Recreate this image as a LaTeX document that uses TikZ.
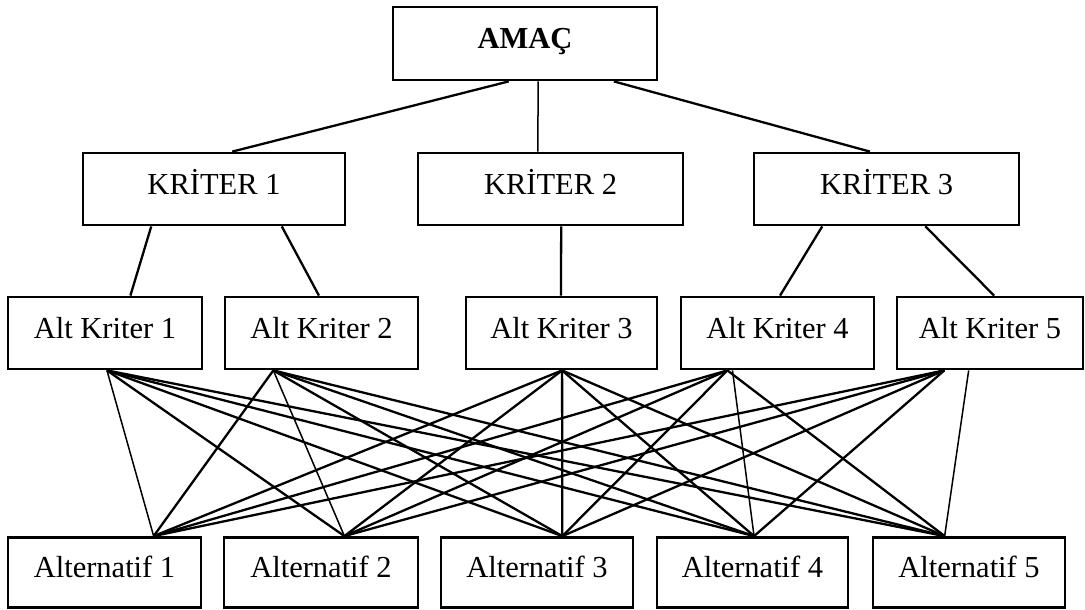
\documentclass[tikz,border=0pt]{standalone}
\usepackage{fontspec}
\setmainfont{Liberation Serif}
\usetikzlibrary{calc}
\begin{document}
\begin{tikzpicture}[x=1pt,y=-1pt,
  box/.style={draw, line width=2.8pt, rectangle, inner sep=0pt,
    minimum height=72pt, text height=22pt, text depth=12pt,
    font=\fontsize{30.5}{36}\selectfont},
  link/.style={line width=2.3pt},
  thinlink/.style={line width=1.5pt}]
\useasboundingbox (0,0) rectangle (1085,610);

% goal
\node[box, minimum width=264pt, minimum height=73pt] (amac) at (525,43.5) {\bfseries AMAÇ};

% criteria
\node[box, minimum width=262pt] (k1) at (214,189) {KRİTER 1};
\node[box, minimum width=265pt] (k2) at (550.5,189) {KRİTER 2};
\node[box, minimum width=265pt] (k3) at (886.5,189) {KRİTER 3};

% sub-criteria
\node[box, minimum width=194pt] (ak1) at (105,333) {Alt Kriter 1};
\node[box, minimum width=193pt] (ak2) at (321.5,333) {Alt Kriter 2};
\node[box, minimum width=191pt] (ak3) at (561.5,333) {Alt Kriter 3};
\node[box, minimum width=193pt] (ak4) at (777.5,333) {Alt Kriter 4};
\node[box, minimum width=186pt] (ak5) at (990,333) {Alt Kriter 5};

% alternatives
\node[box, minimum width=193pt, minimum height=70pt] (alt1) at (104.5,572.5) {Alternatif 1};
\node[box, minimum width=194pt, minimum height=70pt] (alt2) at (321,572.5) {Alternatif 2};
\node[box, minimum width=192pt, minimum height=70pt] (alt3) at (537,572.5) {Alternatif 3};
\node[box, minimum width=191pt, minimum height=70pt] (alt4) at (752.5,572.5) {Alternatif 4};
\node[box, minimum width=192pt, minimum height=70pt] (alt5) at (969,572.5) {Alternatif 5};

% goal -> criteria
\draw[link] ($(amac.south west)!0.439!(amac.south east)$) -- ($(k1.north west)!0.569!(k1.north east)$);
\draw[thinlink] ($(amac.south west)!0.549!(amac.south east)$) -- ($(k2.north west)!0.453!(k2.north east)$);
\draw[link] ($(amac.south west)!0.833!(amac.south east)$) -- ($(k3.north west)!0.438!(k3.north east)$);

% criteria -> sub-criteria
\draw[link] ($(k1.south west)!0.263!(k1.south east)$) -- ($(ak1.north west)!0.629!(ak1.north east)$);
\draw[link] ($(k1.south west)!0.756!(k1.south east)$) -- ($(ak2.north west)!0.487!(ak2.north east)$);
\draw[link] ($(k2.south west)!0.540!(k2.south east)$) -- ($(ak3.north west)!0.497!(ak3.north east)$);
\draw[link] ($(k3.south west)!0.260!(k3.south east)$) -- ($(ak4.north west)!0.513!(ak4.north east)$);
\draw[link] ($(k3.south west)!0.645!(k3.south east)$) -- ($(ak5.north west)!0.522!(ak5.north east)$);

% sub-criteria -> alternatives (all pairs)
\foreach \i/\fa in {1/0.510,2/0.254,3/0.503,4/0.244,5/0.258}{
  \foreach \j/\fb in {1/0.751,2/0.619,3/0.630,4/0.508,5/0.375}{
    \ifnum\i=\j\else
      \draw[link] ($(ak\i.south west)!\fa!(ak\i.south east)$) -- ($(alt\j.north west)!\fb!(alt\j.north east)$);
    \fi
  }
}
\draw[thinlink] ($(ak1.south west)!0.510!(ak1.south east)$) -- ($(alt1.north west)!0.751!(alt1.north east)$);
\draw[thinlink] ($(ak2.south west)!0.254!(ak2.south east)$) -- ($(alt2.north west)!0.619!(alt2.north east)$);
\draw[link] ($(ak3.south west)!0.503!(ak3.south east)$) -- ($(alt3.north west)!0.630!(alt3.north east)$);
\draw[thinlink] ($(ak4.south west)!0.27!(ak4.south east)$) -- ($(alt4.north west)!0.508!(alt4.north east)$);
\draw[thinlink] ($(ak5.south west)!0.387!(ak5.south east)$) -- ($(alt5.north west)!0.375!(alt5.north east)$);
\end{tikzpicture}
\end{document}
